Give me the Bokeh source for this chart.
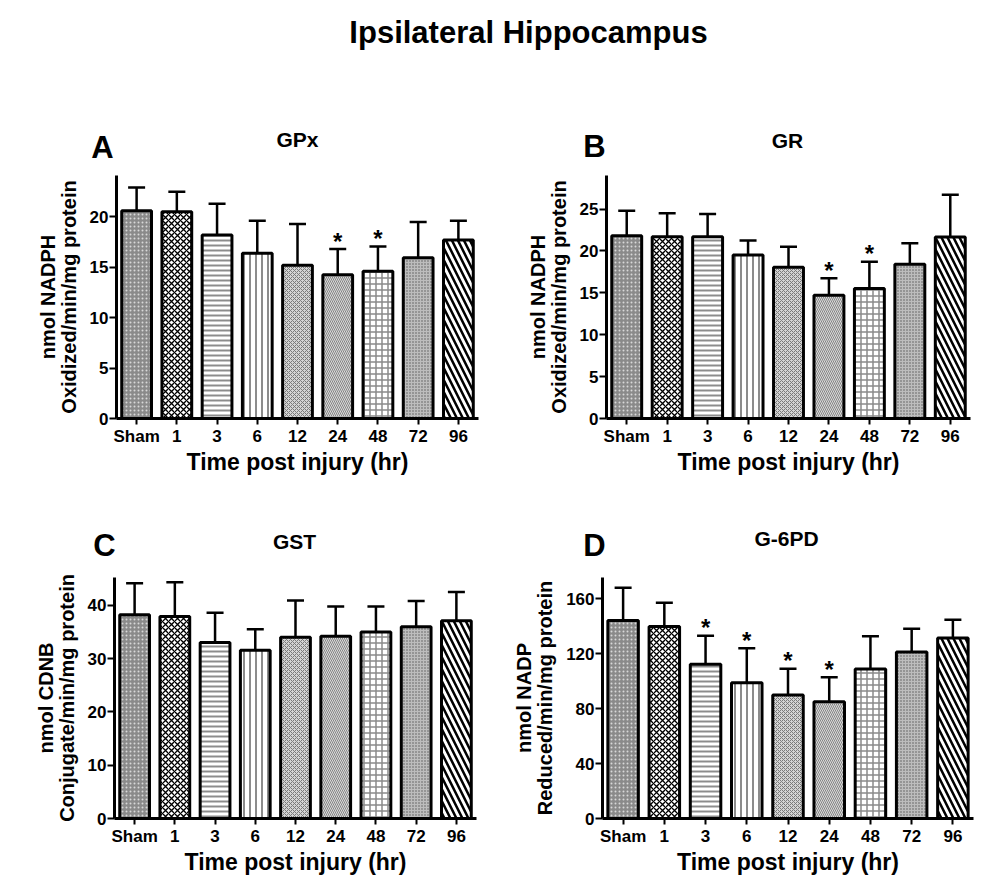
from bokeh.plotting import figure
from bokeh.models import ColumnDataSource, FixedTicker, Range1d, FactorRange, Label
from bokeh.layouts import column, row
from bokeh.embed import file_html
from bokeh.resources import INLINE
from bokeh.core.properties import value

FONT = "Liberation Sans"

# ---------------- data ----------------
hours = ["Sham", "1", "3", "6", "12", "24", "48", "72", "96"]

gpx_mean = [20.6, 20.5, 18.2, 16.4, 15.2, 14.25, 14.6, 15.95, 17.7]
gpx_err = [2.3, 2.0, 3.1, 3.2, 4.1, 2.55, 2.45, 3.55, 1.9]
gpx_sig = ["24", "48"]

gr_mean = [21.8, 21.7, 21.7, 19.5, 18.05, 14.7, 15.5, 18.4, 21.65]
gr_err = [3.0, 2.8, 2.7, 1.75, 2.45, 2.05, 3.2, 2.5, 5.05]
gr_sig = ["24", "48"]

gst_mean = [38.2, 37.9, 33.0, 31.55, 34.0, 34.2, 35.0, 35.95, 37.1]
gst_err = [5.9, 6.4, 5.6, 3.95, 6.9, 5.55, 4.75, 4.85, 5.4]
gst_sig = []

g6pd_mean = [144.2, 139.9, 112.4, 98.8, 89.9, 85.1, 108.8, 121.3, 131.5]
g6pd_err = [23.9, 17.2, 20.6, 25.1, 19.2, 17.7, 23.9, 16.9, 13.2]
g6pd_sig = ["3", "6", "12", "24"]

# ---------------- bar styles ----------------
fill_colors = ["#8a8a8a", "#ffffff", "#ffffff", "#ffffff", "#d4d4d4", "#dadada", "#ffffff", "#bdbdbd", "#ffffff"]
hatch_patterns = ["dot", "diagonal_cross", "horizontal_line", "vertical_line", "diagonal_cross",
                  "left_diagonal_line", "cross", "dot", "left_diagonal_line"]
hatch_colors = ["#d8d8d8", "#000000", "#8c8c8c", "#8c8c8c", "#7a7a7a", "#858585", "#8a8a8a", "#5a5a5a", "#000000"]
hatch_scales = [4, 6, 5, 6, 4, 4, 6, 3, 12]
hatch_weights = [1.5, 1.3, 2, 2, 1, 1, 1.5, 1.2, 2.5]


def panel(mean, err, sig, ymax, yticks, ylabel, width, height, bl, br, bt, bb):
    p = figure(x_range=FactorRange(*hours), y_range=Range1d(0, ymax),
               width=width, height=height, min_border_left=bl, min_border_right=br,
               min_border_top=bt, min_border_bottom=bb,
               output_backend="svg", toolbar_location=None, tools="")
    p.outline_line_color = None
    p.grid.grid_line_color = None

    upper = [m + e for m, e in zip(mean, err)]
    src = ColumnDataSource(dict(x=hours, mean=mean, upper=upper,
                                fill=fill_colors, hp=hatch_patterns, hc=hatch_colors,
                                hs=hatch_scales, hw=hatch_weights))
    p.segment(x0="x", y0="mean", x1="x", y1="upper", source=src,
              line_color="black", line_width=2.5)
    p.scatter(x="x", y="upper", source=src, marker="dash", size=17,
              line_color="black", line_width=2.5)
    p.vbar(x="x", top="mean", width=0.74, source=src,
           fill_color="fill", hatch_pattern="hp", hatch_color="hc",
           hatch_scale="hs", hatch_weight="hw",
           line_color="black", line_width=3)

    if sig:
        sx = [h for h in hours if h in sig]
        sy = [upper[hours.index(h)] for h in sx]
        p.text(x=sx, y=sy, text=["*"] * len(sx), text_align="center",
               text_baseline="alphabetic", y_offset=-8,
               text_font=value(FONT), text_font_style="bold",
               text_font_size="24px", text_color="black")

    for ax in (p.xaxis[0], p.yaxis[0]):
        ax.axis_line_width = 3
        ax.axis_line_color = "black"
        ax.major_tick_line_width = 2
        ax.major_tick_line_color = "black"
        ax.major_tick_in = 0
        ax.minor_tick_line_color = None
        ax.major_label_text_font = FONT
        ax.major_label_text_font_style = "bold"
        ax.major_label_text_font_size = "17px"
        ax.major_label_text_color = "black"
        ax.axis_label_text_font = FONT
        ax.axis_label_text_font_style = "bold"
        ax.axis_label_text_color = "black"

    p.xaxis.major_tick_out = 6
    p.xaxis.major_label_standoff = 2
    p.xaxis.axis_label = "Time post injury (hr)"
    p.xaxis.axis_label_text_font_size = "23px"
    p.xaxis.axis_label_standoff = 0

    p.yaxis.ticker = FixedTicker(ticks=yticks)
    p.yaxis.major_tick_out = 7
    p.yaxis.major_label_standoff = 1
    p.yaxis.axis_label = ylabel
    p.yaxis.axis_label_text_font_size = "20px"
    p.yaxis.axis_label_text_line_height = 0.95
    p.yaxis.axis_label_standoff = 7
    return p


def header(width, height, items):
    h = figure(width=width, height=height, x_range=Range1d(0, width), y_range=Range1d(height, 0),
               output_backend="svg", toolbar_location=None, tools="", min_border=0)
    h.axis.visible = False
    h.grid.grid_line_color = None
    h.outline_line_color = None
    for txt, x, y, size in items:
        h.add_layout(Label(x=x, y=y, text=txt, text_align="center", text_baseline="middle",
                           text_font=FONT, text_font_style="bold", text_font_size=size,
                           text_color="black"))
    return h


pA = panel(gpx_mean, gpx_err, gpx_sig, 24.1, [0, 5, 10, 15, 20],
           "nmol NADPH\nOxidized/min/mg protein", 497, 314, 116, 19, 0, 68)
pB = panel(gr_mean, gr_err, gr_sig, 29.0, [0, 5, 10, 15, 20, 25],
           "nmol NADPH\nOxidized/min/mg protein", 503, 314, 109, 30, 3, 68)
pC = panel(gst_mean, gst_err, gst_sig, 45.2, [0, 10, 20, 30, 40],
           "nmol CDNB\nConjugate/min/mg protein", 497, 317, 114, 21, 4, 71)
pD = panel(g6pd_mean, g6pd_err, g6pd_sig, 175.5, [0, 40, 80, 120, 160],
           "nmol NADP\nReduced/min/mg protein", 503, 317, 105, 27, 0, 72)

top = header(1000, 172, [("Ipsilateral Hippocampus", 528, 32, "31px"),
                         ("A", 102, 147, "31px"), ("GPx", 297, 139, "21px"),
                         ("B", 594, 146, "31px"), ("GR", 787, 140, "21px")])
mid = header(1000, 87, [("C", 104, 59, "31px"), ("GST", 294, 55, "21px"),
                        ("D", 594, 59, "31px"), ("G-6PD", 786, 52, "21px")])

layout = column(top, row(pA, pB), mid, row(pC, pD))

open("out.html", "w").write(file_html(layout, INLINE))
